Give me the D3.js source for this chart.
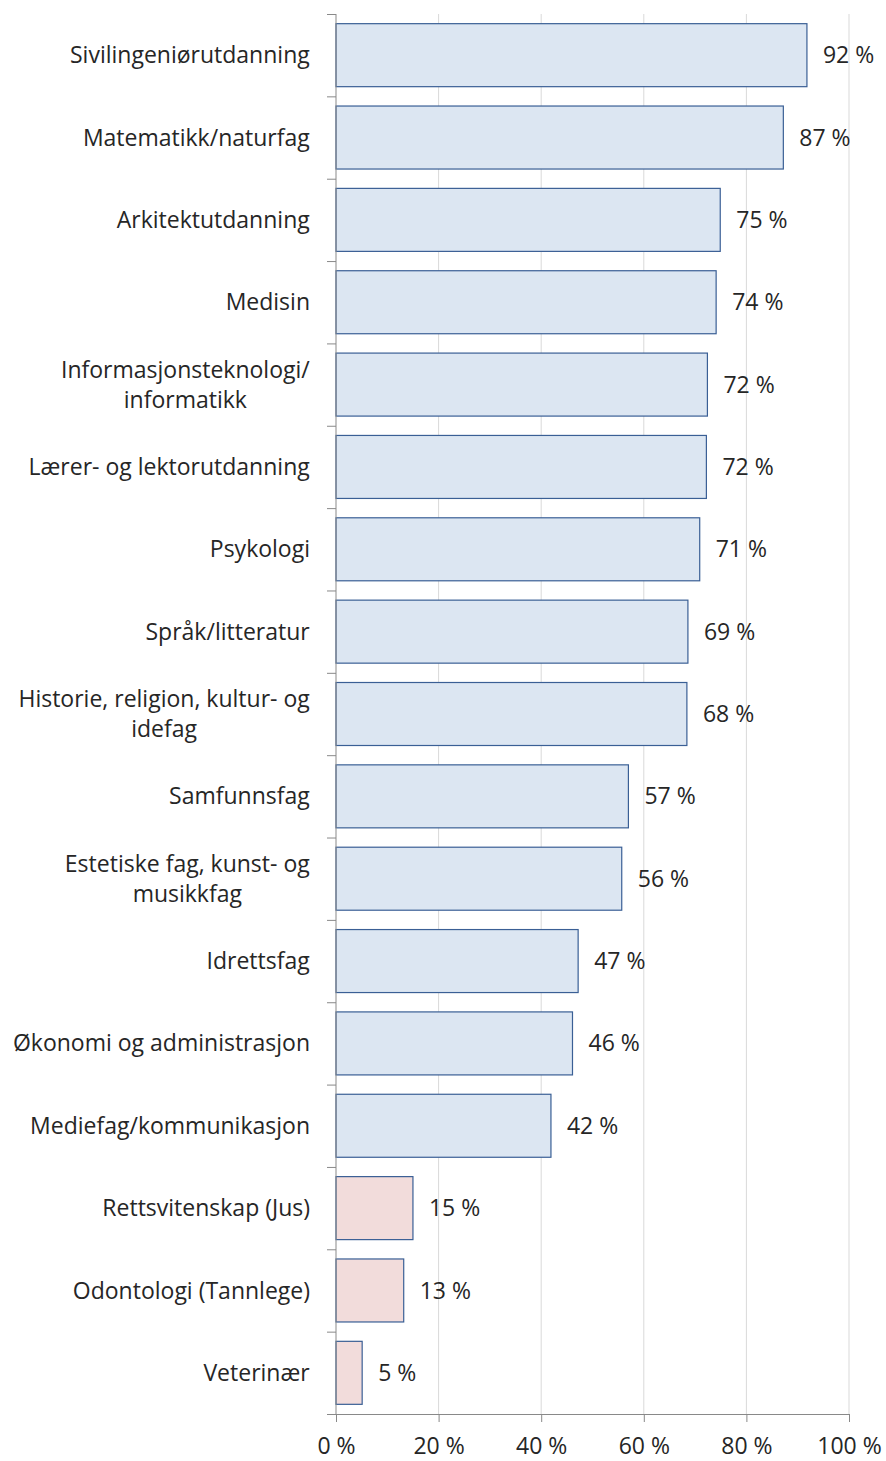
<!DOCTYPE html>
<html>
<head>
<meta charset="utf-8">
<script src="https://cdn.jsdelivr.net/npm/d3@7"></script>
<style>
  body { margin: 0; background: #fff; }
  text { font-family: "Open Sans", Lato, sans-serif; fill: #262626; }
</style>
</head>
<body>
<svg width="886" height="1461"></svg>
<script>

const categories = [
    'Sivilingeniørutdanning',
    'Matematikk/naturfag',
    'Arkitektutdanning',
    'Medisin',
    'Informasjonsteknologi/\ninformatikk',
    'Lærer- og lektorutdanning',
    'Psykologi',
    'Språk/litteratur',
    'Historie, religion, kultur- og\nidefag',
    'Samfunnsfag',
    'Estetiske fag, kunst- og\nmusikkfag',
    'Idrettsfag',
    'Økonomi og administrasjon',
    'Mediefag/kommunikasjon',
    'Rettsvitenskap (Jus)',
    'Odontologi (Tannlege)',
    'Veterinær'
];

const values = [91.8, 87.2, 74.9, 74.1, 72.4, 72.2, 70.9, 68.6, 68.4, 57.0, 55.7, 47.2, 46.1, 41.9, 15.0, 13.2, 5.1];

// last three are the "low" group (pink)
const groups = ['a','a','a','a','a','a','a','a','a','a','a','a','a','a','b','b','b'];

const xTicks = [0, 20, 40, 60, 80, 100];

const svg = d3.select('svg');
const plotL = 336, plotR = 849, plotT = 14, plotB = 1414;
const fs = 23;

const x = d3.scaleLinear().domain([0, 100]).range([plotL, plotR]);
const y = d3.scaleBand().domain(categories).range([plotT, plotB]).paddingInner(0.235).paddingOuter(0.1175);

const fills = {a: '#dce6f2', b: '#f2dcdb'};

// gridlines
svg.append('g')
    .selectAll('line')
    .data(xTicks.slice(1))
    .enter()
    .append('line')
        .attr('x1', d => x(d))
        .attr('x2', d => x(d))
        .attr('y1', plotT)
        .attr('y2', plotB)
        .attr('stroke', '#d9d9d9')
        .attr('stroke-width', 1);

// bars
svg.append('g')
    .selectAll('rect')
    .data(values)
    .enter()
    .append('rect')
        .attr('x', x(0))
        .attr('y', (d, i) => y(categories[i]))
        .attr('width', d => x(d) - x(0))
        .attr('height', y.bandwidth())
        .attr('fill', (d, i) => fills[groups[i]])
        .attr('stroke', '#3a5f95')
        .attr('stroke-width', 1.2);

// value labels
svg.append('g')
    .selectAll('text')
    .data(values)
    .enter()
    .append('text')
        .attr('x', d => x(d) + 16)
        .attr('y', (d, i) => y(categories[i]) + y.bandwidth() / 2)
        .attr('dy', '0.35em')
        .attr('font-size', fs)
        .text(d => Math.round(d) + ' %');

// x axis
const xAxis = svg.append('g')
    .attr('transform', `translate(0,${plotB})`)
    .call(d3.axisBottom(x).tickValues(xTicks).tickSize(8).tickFormat(d => d + ' %'));
xAxis.select('.domain').attr('stroke', '#898989').attr('d', `M${plotL - 9},0.5H${plotR}`);
xAxis.selectAll('.tick line').attr('stroke', '#898989');
xAxis.selectAll('.tick text')
    .attr('font-size', fs)
    .attr('font-family', '"Open Sans", sans-serif')
    .attr('fill', '#262626')
    .attr('y', 23)
    .attr('dy', '0.75em');

// y axis line and ticks at band boundaries
const boundaries = d3.range(categories.length + 1).map(i => plotT + i * (plotB - plotT) / categories.length);
svg.append('line')
    .attr('x1', plotL).attr('x2', plotL)
    .attr('y1', plotT).attr('y2', plotB)
    .attr('stroke', '#898989');
svg.append('g')
    .selectAll('line')
    .data(boundaries)
    .enter()
    .append('line')
        .attr('x1', plotL - 9)
        .attr('x2', plotL)
        .attr('y1', d => d + 0.5)
        .attr('y2', d => d + 0.5)
        .attr('stroke', '#898989');

// category labels (multi-line labels centred under their widest line)
const labelRight = 310;
const lineH = 30;
categories.forEach((c, i) => {
    const lines = c.split('\n');
    const cy = y(c) + y.bandwidth() / 2;
    const t = svg.append('text')
        .attr('font-size', fs)
        .attr('text-anchor', 'middle');
    lines.forEach((l, j) => {
        t.append('tspan')
            .attr('x', 0)
            .attr('y', cy + (j - (lines.length - 1) / 2) * lineH)
            .attr('dy', '0.35em')
            .text(l);
    });
    const w = t.node().getBBox().width;
    t.selectAll('tspan').attr('x', labelRight - w / 2);
});

</script>
</body>
</html>
